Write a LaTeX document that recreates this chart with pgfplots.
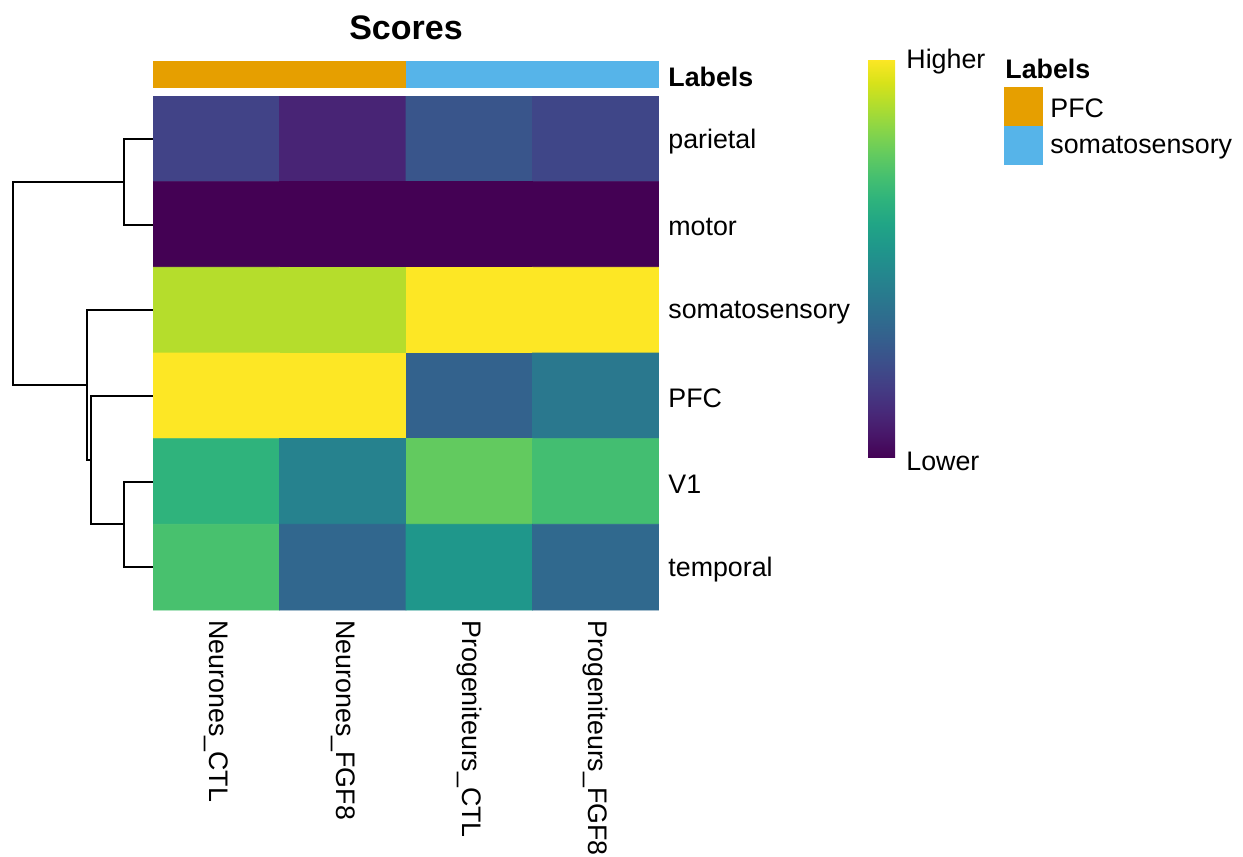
\documentclass[border=0pt]{standalone}
\usepackage{pgfplots}
\usepackage{pgfplotstable}
\pgfplotsset{compat=1.18}
\usepackage{fontspec}
\setmainfont{Liberation Sans}
\newcommand{\fs}{\fontsize{13.4}{16}\selectfont}
\definecolor{pfcc}{HTML}{E69F00}
\definecolor{somc}{HTML}{56B4E9}

\pgfplotstableread{
x y c
0 0 0.20
1 0 0.10
2 0 0.26
3 0 0.21
0 1 0.00
1 1 0.00
2 1 0.00
3 1 0.00
0 2 0.89
1 2 0.89
2 2 1.00
3 2 1.00
0 3 1.00
1 3 1.00
2 3 0.31
3 3 0.40
0 4 0.65
1 4 0.44
2 4 0.76
3 4 0.70
0 5 0.71
1 5 0.33
2 5 0.53
3 5 0.34
}\heat

\pgfplotsset{colorbar shift/.style={}}

\begin{document}
\begin{tikzpicture}[font=\fs]
\useasboundingbox (0,0) rectangle (621.5pt,428.5pt);

% heatmap
\begin{axis}[
  at={(76.5pt,123.5pt)}, anchor=south west,
  scale only axis, width=253pt, height=257pt,
  xmin=-0.5, xmax=3.5, ymin=-0.5, ymax=5.5, y dir=reverse,
  axis line style={draw=none}, tick style={draw=none},
  xtick={0,1,2,3},
  xticklabels={Neurones\_CTL,Neurones\_FGF8,Progeniteurs\_CTL,Progeniteurs\_FGF8},
  xticklabel style={yshift=-5pt, rotate=-90, anchor=west, font=\fs, inner sep=0pt},
  ytick={0,1,2,3,4,5},
  yticklabels={parietal,motor,somatosensory,PFC,V1,temporal},
  yticklabel pos=right,
  yticklabel style={anchor=west, font=\fs, inner sep=0pt, xshift=4.5pt, yshift=-1.2pt},
  colormap/viridis,
  point meta min=0, point meta max=1,
  colorbar,
  colorbar style={
    at={(434pt,399pt)}, anchor=north west,
    width=13.5pt, height=199.5pt,
    axis line style={draw=none}, tick style={draw=none},
    ytick={0,1}, yticklabels={Lower,Higher},
    yticklabel style={font=\fs, inner sep=0pt, xshift=5.5pt, yshift=-1.5pt},
  },
]
\addplot[matrix plot*, mesh/cols=4, point meta=explicit] table[x=x, y=y, meta=c] {\heat};
\end{axis}

% annotation bar
\begin{axis}[
  at={(76.5pt,384.5pt)}, anchor=south west,
  scale only axis, width=253pt, height=13.5pt,
  xmin=0, xmax=4, ymin=0, ymax=1,
  axis line style={draw=none}, tick style={draw=none},
  xtick=\empty,
  ytick={0.5}, yticklabels={\textbf{Labels}},
  yticklabel pos=right,
  yticklabel style={anchor=west, font=\fs, inner sep=0pt, xshift=4.5pt, yshift=-1pt},
  title={Scores},
  title style={at={(0.5,1)}, anchor=base, yshift=4.5pt, inner sep=0pt, font=\bfseries\fontsize{17}{20}\selectfont},
]
\addplot[fill=pfcc, draw=none] coordinates {(0,0) (2,0) (2,1) (0,1)};
\addplot[fill=somc, draw=none] coordinates {(2,0) (4,0) (4,1) (2,1)};
\end{axis}

% dendrogram
\begin{axis}[
  at={(6.5pt,123.5pt)}, anchor=south west,
  scale only axis, width=70pt, height=257pt,
  xmin=0, xmax=1, x dir=reverse,
  ymin=-0.5, ymax=5.5, y dir=reverse,
  hide axis, clip=false,
]
\addplot[black, mark=none, line width=1pt] coordinates {(0,0) (0.207,0) (0.207,1) (0,1)};
\addplot[black, mark=none, line width=1pt] coordinates {(0.207,0.5) (1,0.5) (1,2.875) (0.471,2.875)};
\addplot[black, mark=none, line width=1pt] coordinates {(0,2) (0.471,2) (0.471,3.75) (0.443,3.75)};
\addplot[black, mark=none, line width=1pt] coordinates {(0,3) (0.443,3) (0.443,4.5) (0.207,4.5)};
\addplot[black, mark=none, line width=1pt] coordinates {(0,4) (0.207,4) (0.207,5) (0,5)};
\end{axis}

% legend key
\begin{axis}[
  at={(502pt,346pt)}, anchor=south west,
  scale only axis, width=19.5pt, height=39pt,
  xmin=0, xmax=1, ymin=0, ymax=2, y dir=reverse,
  axis line style={draw=none}, tick style={draw=none},
  xtick=\empty,
  ytick={0.5,1.5}, yticklabels={PFC,somatosensory},
  yticklabel pos=right,
  yticklabel style={anchor=west, font=\fs, inner sep=0pt, xshift=3.5pt, yshift=-1pt},
  title={Labels},
  title style={at={(0,1)}, anchor=base west, yshift=-2pt, inner sep=0pt, xshift=0.5pt, font=\bfseries\fs},
]
\addplot[fill=pfcc, draw=none] coordinates {(0,0) (1,0) (1,1) (0,1)};
\addplot[fill=somc, draw=none] coordinates {(0,1) (1,1) (1,2) (0,2)};
\end{axis}
\end{tikzpicture}
\end{document}
